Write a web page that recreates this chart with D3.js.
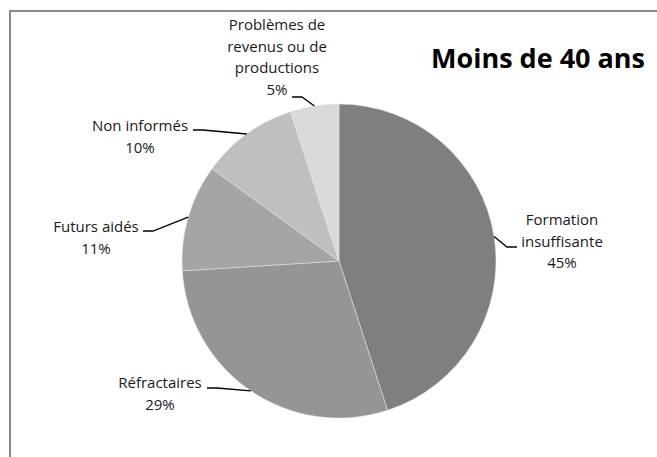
<!DOCTYPE html>
<html>
<head>
<meta charset="utf-8">
<script src="https://cdn.jsdelivr.net/npm/d3@7"></script>
<style>
  body { margin: 0; background: #fff; }
  text { font-family: "Open Sans", "Noto Sans", sans-serif; fill: #1a1a1a; }
</style>
</head>
<body>
<script>
// values (percent)
var categories = ["Formation insuffisante", "Réfractaires", "Futurs aidés", "Non informés", "Problèmes de revenus ou de productions"];
var values = [45, 29, 11, 10, 5];
var sliceColors = ["#7f7f7f", "#959595", "#a5a5a5", "#bfbfbf", "#d9d9d9"];

// label lines as shown on the chart (text wraps like the original)
var labelLines = [
  ["Formation", "insuffisante"],
  ["Réfractaires"],
  ["Futurs aidés"],
  ["Non informés"],
  ["Problèmes de", "revenus ou de", "productions"]
];
// label block centre x, first line y, and leader start (side: +1 = line leaves to right)
var labelPos = [
  {x: 562, y: 220, lx: 517, ly: 247, side: -1},
  {x: 160, y: 383, lx: 207, ly: 388, side: 1},
  {x: 96,  y: 227, lx: 143, ly: 231, side: 1},
  {x: 140, y: 126, lx: 193, ly: 130, side: 1},
  {x: 277, y: 25,  lx: 292, ly: 97,  side: 1}
];

var width = 657, height = 457;
var cx = 339, cy = 261, radius = 157;

var svg = d3.select("body").append("svg")
  .attr("width", width)
  .attr("height", height);

// chart frame (cropped on the right and bottom)
svg.append("rect")
  .attr("x", 10)
  .attr("y", 11)
  .attr("width", 700)
  .attr("height", 500)
  .attr("fill", "none")
  .attr("stroke", "#8a8a8a")
  .attr("stroke-width", 2);

var data = categories.map(function(c, i) {
  return {name: c, value: values[i], color: sliceColors[i], lines: labelLines[i], pos: labelPos[i]};
});

var pie = d3.pie()
  .sort(null)
  .value(function(d) { return d.value; });

var arc = d3.arc()
  .innerRadius(0)
  .outerRadius(radius);

// leader end sits on the rim at the slice's mid angle
var rimArc = d3.arc()
  .innerRadius(radius)
  .outerRadius(radius);

var g = svg.append("g")
  .attr("transform", "translate(" + cx + "," + cy + ")");

var arcs = pie(data);

g.selectAll("path.slice")
  .data(arcs)
  .enter().append("path")
  .attr("class", "slice")
  .attr("d", arc)
  .attr("fill", function(d) { return d.data.color; })
  .attr("stroke", "#e6e6e6")
  .attr("stroke-width", 0.5);

// leader lines
svg.selectAll("path.leader")
  .data(arcs)
  .enter().append("path")
  .attr("class", "leader")
  .attr("d", function(d) {
    var p = d.data.pos;
    var c = rimArc.centroid(d);
    var ex = cx + c[0], ey = cy + c[1];
    return "M" + p.lx + "," + p.ly + "L" + (p.lx + 10 * p.side) + "," + p.ly + "L" + ex + "," + ey;
  })
  .attr("fill", "none")
  .attr("stroke", "#000")
  .attr("stroke-width", 1.3);

// labels
var labels = svg.selectAll("text.lbl")
  .data(arcs)
  .enter().append("text")
  .attr("class", "lbl")
  .attr("text-anchor", "middle")
  .style("font-size", "15px");

labels.each(function(d) {
  var t = d3.select(this);
  var p = d.data.pos;
  var lines = d.data.lines.concat([d3.format(".0f")(d.data.value) + "%"]);
  lines.forEach(function(s, i) {
    t.append("tspan")
      .attr("x", p.x)
      .attr("y", p.y + i * 21.5)
      .attr("dy", "0.35em")
      .text(s);
  });
});

// title
svg.append("text")
  .attr("x", 538)
  .attr("y", 68)
  .attr("text-anchor", "middle")
  .style("font-size", "27px")
  .style("font-weight", "bold")
  .style("fill", "#000")
  .text("Moins de 40 ans");
</script>
</body>
</html>
